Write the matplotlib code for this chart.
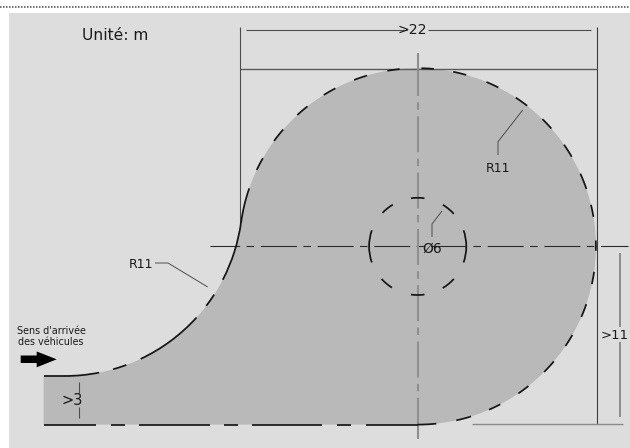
"""Giratoire en goutte : aire de retournement, cotes en metres."""
import numpy as np
import matplotlib
matplotlib.use("Agg")
import matplotlib.pyplot as plt
from matplotlib.patches import Arc, Polygon, Rectangle
from matplotlib.transforms import Affine2D

# geometry (metres, origin at the circle centre)
big_radius = 11
hub_radius = 3
road_left = -23.09
road_top = -8
road_bottom = -11
fillet_center = (-21.8, 3)
tangent_angle = 7.8

# visible stroke pieces on the outline (degrees)
circle_dash_start = [-90, -77.5, -66.4, -55.6, -44.8, -34, -23.3, -12.2, -1.4, 9.5, 18.8, 30.2,
                     41.4, 52.1, 63.1, 74.2, 84.8, 95.8, 106.5, 117.5, 128.2, 139, 150.3, 161]
circle_dash_end = [-84, -72.6, -62.4, -51.6, -40.2, -29.8, -18.9, -8.2, 1.9, 13.5, 24.1, 34.8,
                   45.6, 56.6, 67.3, 78.5, 88.8, 99.8, 110.9, 121.8, 132.5, 143.7, 154.6, 172.2]
fillet_dash_start = [-90, -74.2, -64.7, -37.3, -27.4]
fillet_dash_end = [-78.8, -69.7, -42.2, -32.9, -7.8]
hub_dash_start = [-19.3, 42, 82, 120.8, 160.7, 222, 262, 301]
hub_dash_end = [19.3, 58.8, 98, 136.4, 199.3, 238, 278, 318]

# visible stroke pieces on the bottom edge (metres)
bottom_dash_start = [-23.09, -18.95, -17.2, -11.96, -10.23, -4.98, -3.21]
bottom_dash_end = [-19.83, -18.09, -12.84, -11.09, -5.91, -4.09, 0]

# annotation texts
unit_label = "Unité: m"
width_label = ">22"
height_label = ">11"
road_label = ">3"
radius_label = "R11"
hub_label = "Ø6"
arrival_label = "Sens d'arrivée\ndes véhicules"

BG = "#dddddd"
FILL = "#b9b9b9"
INK = "#151515"
DIM = "#4d4d4d"
AXIS = "#8f8f8f"
W, H = 630, 448
SCALE = 16.2
CX, CY = 417.7, 246.4
PT = 0.72  # points per image pixel at 100 dpi
H_DASH = tuple(PT * d for d in (36, 6.4, 7.6, 6.7))
V_DASH = tuple(PT * d for d in (36, 6.3, 7.5, 6.5))

plt.rcParams["lines.scale_dashes"] = False

fig = plt.figure(figsize=(W / 100, H / 100), dpi=100)
ax = fig.add_axes([0, 0, 1, 1])
ax.set_xlim(-CX / SCALE, (W - CX) / SCALE)
ax.set_ylim((CY - H) / SCALE, CY / SCALE)
ax.axis("off")

# annotations are laid out in image pixels, y going down
pix = Affine2D().scale(1, -1).translate(0, H)


def trait(xs, ys, color=DIM, lw=0.8, **kw):
    ax.plot(xs, ys, color=color, lw=lw, transform=pix, solid_capstyle="butt",
            dash_capstyle="butt", zorder=3, **kw)


def label(x, y, s, size=9, **kw):
    ax.text(x, y, s, fontsize=size, color="#1a1a1a", ha="center", va="center",
            transform=pix, zorder=5, **kw)


def arc_points(center, radius, start, end):
    t = np.radians(np.linspace(start, end, 200))
    return np.column_stack([center[0] + radius * np.cos(t), center[1] + radius * np.sin(t)])


def stroke_arcs(center, radius, starts, ends):
    for a, b in zip(starts, ends):
        ax.add_patch(Arc(center, 2 * radius, 2 * radius, theta1=a, theta2=b,
                         color=INK, lw=1.25, zorder=4, capstyle="butt"))


# background
ax.add_patch(Rectangle((9, 13), W - 9, H - 13, transform=pix, facecolor=BG, lw=0, zorder=0))
trait([0, W], [6.7, 6.7], color="#707070", lw=1.4, linestyle=(0, (1.5 * PT, 1.5 * PT)))

# road and circle surface
outline = np.vstack([
    [[road_left, road_bottom], [0, road_bottom]],
    arc_points((0, 0), big_radius, -90, 180 - tangent_angle),
    arc_points(fillet_center, big_radius, -tangent_angle, -90),
    [[road_left, road_top]],
])
ax.add_patch(Polygon(outline, closed=True, facecolor=FILL, lw=0, zorder=1))

# dimension frame
trait([239.5, 239.5], [27, 224])
trait([597.3, 597.3], [27, 424], color="#3c3c3c")
trait([239.5, 597.3], [69, 69], color="#5a5a5a", lw=1.0)
trait([245.7, 406.5], [30, 30])
trait([428, 591], [30, 30])
trait([619.7, 619.7], [253, 327], color="#7d7d7d", lw=1.2)
trait([619.7, 619.7], [342, 417], color="#7d7d7d", lw=1.2)
trait([471.7, 622.7], [424, 424], color="#8a8a8a", lw=1.0)
trait([78.5, 78.5], [382, 393])
trait([78.5, 78.5], [407, 418])

# centre lines, the vertical one has longer end pieces
trait([210, 628], [CY, CY], color="#2a2a2a", lw=0.8, linestyle=(6.3 * PT, H_DASH))
trait([CX, CX], [59.7, 433.5], color=AXIS, lw=1.5, linestyle=(0, V_DASH))
trait([CX, CX], [53.3, 60], color=AXIS, lw=1.5)
trait([CX, CX], [433, 439.3], color=AXIS, lw=1.5)

# outline strokes
stroke_arcs((0, 0), big_radius, circle_dash_start, circle_dash_end)
stroke_arcs(fillet_center, big_radius, fillet_dash_start, fillet_dash_end)
stroke_arcs((0, 0), hub_radius, hub_dash_start, hub_dash_end)
ax.plot([road_left, fillet_center[0]], [road_top, road_top], color=INK, lw=1.25,
        solid_capstyle="butt", zorder=4)
for a, b in zip(bottom_dash_start, bottom_dash_end):
    ax.plot([a, b], [road_bottom, road_bottom], color=INK, lw=1.25,
            solid_capstyle="butt", zorder=4)

# leaders
trait([522.7, 498, 498], [110, 141.7, 155], lw=0.7)
trait([442, 432, 432], [211, 224, 237], lw=0.7)
trait([155, 168, 207.7], [263, 263, 287], lw=0.7)

# arrival arrow
ax.add_patch(Polygon([[20.7, 355.5], [36.7, 355.5], [36.7, 351.5], [56.7, 359.3],
                      [36.7, 367.3], [36.7, 363], [20.7, 363]],
                     closed=True, transform=pix, facecolor="black", lw=0, zorder=4))

# texts
label(115, 35, unit_label, size=11.2)
label(412, 30, width_label, size=10.2)
label(498, 168, radius_label, size=9)
label(140.5, 264, radius_label, size=9)
label(432, 249, hub_label, size=10)
label(614.5, 335.5, height_label, size=9.5)
label(72, 400, road_label, size=10.5)
label(51, 336.5, arrival_label, size=6.9, linespacing=1.05)

fig.savefig("out.png", dpi=100)
